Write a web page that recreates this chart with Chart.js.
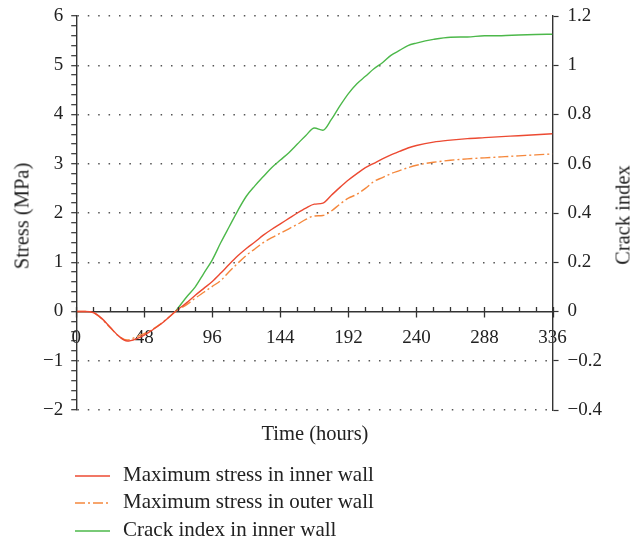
<!DOCTYPE html>
<html>
<head>
<meta charset="utf-8">
<script src="https://cdn.jsdelivr.net/npm/chart.js@4.4.0/dist/chart.umd.min.js"></script>
<style>
  body { margin: 0; background: #fff; }
  #wrap { position: relative; width: 638px; height: 542px; font-family: "Liberation Serif", "Times New Roman", serif; color: #222; }
  #chart { position: absolute; left: 0; top: 0; }
  .title { position: absolute; font-size: 20.5px; white-space: nowrap; }
  .rot { transform: translate(-50%, -50%) rotate(-90deg); }
  .legend { position: absolute; left: 75px; font-size: 21px; white-space: nowrap; transform: translateY(-50%); line-height: 24px; }
  .legend svg { vertical-align: middle; margin-right: 13px; }
</style>
</head>
<body>
<div id="wrap">
  <canvas id="chart" width="638" height="542"></canvas>
  <div class="title rot" style="left:22px; top:216px;">Stress (MPa)</div>
  <div class="title rot" style="left:623px; top:215px;">Crack index</div>
  <div class="title" style="left:315px; top:433px; transform: translate(-50%, -50%);">Time (hours)</div>
  <div id="legend"></div>
</div>
<script>
"use strict";

// time in hours
let times = [0, 6, 12, 18, 24, 30, 36, 42, 48, 54, 60, 66, 70, 78, 84, 90, 96, 102, 108, 114,
    120, 126, 132, 138, 144, 150, 156, 162, 168, 174, 180, 186, 192, 198, 204, 210, 216, 222,
    228, 234, 240, 252, 264, 276, 288, 300, 312, 324, 336];

// maximum stress in inner wall (MPa)
let innerStress = [0, 0, -0.02, -0.14, -0.32, -0.5, -0.6, -0.56, -0.48, -0.37, -0.25, -0.1, 0, 0.18, 0.33, 0.47, 0.61, 0.78, 0.96, 1.13,
    1.28, 1.41, 1.55, 1.67, 1.78, 1.89, 2.0, 2.1, 2.18, 2.2, 2.36, 2.52, 2.67, 2.8, 2.92, 3.01, 3.1, 3.18,
    3.25, 3.32, 3.37, 3.44, 3.48, 3.51, 3.53, 3.55, 3.57, 3.59, 3.61];

// maximum stress in outer wall (MPa)
let outerStress = [0, 0, -0.02, -0.15, -0.33, -0.5, -0.58, -0.52, -0.45, -0.36, -0.24, -0.1, 0, 0.14, 0.27, 0.39, 0.51, 0.63, 0.81, 0.98,
    1.14, 1.27, 1.4, 1.5, 1.59, 1.68, 1.77, 1.87, 1.94, 1.95, 2.04, 2.18, 2.3, 2.38, 2.5, 2.64, 2.72, 2.8,
    2.86, 2.92, 2.97, 3.03, 3.07, 3.1, 3.12, 3.14, 3.16, 3.18, 3.2];

// crack index in inner wall (only once the wall is in tension)
let crackIndex = [null, null, null, null, null, null, null, null, null, null, null, null, 0, 0.06, 0.1, 0.155, 0.21, 0.28, 0.345, 0.41,
    0.468, 0.51, 0.548, 0.585, 0.615, 0.645, 0.68, 0.715, 0.745, 0.736, 0.78, 0.835, 0.885, 0.925, 0.955, 0.986, 1.01, 1.04,
    1.06, 1.08, 1.09, 1.105, 1.114, 1.115, 1.12, 1.12, 1.123, 1.125, 1.126];

let stressTicks = [-2, -1, 0, 1, 2, 3, 4, 5, 6];
let crackTicks = [-0.4, -0.2, 0, 0.2, 0.4, 0.6, 0.8, 1, 1.2];
let timeTicks = [0, 48, 96, 144, 192, 240, 288, 336];

let seriesNames = ["Maximum stress in inner wall", "Maximum stress in outer wall", "Crack index in inner wall"];
let seriesColors = ["#ec4a32", "#f5883d", "#4cb84a"];

function toPoints(values) {
    return times.map((t, i) => ({ x: t, y: values[i] }));
}

function minus(v) {
    return String(v).replace("-", "\u2212");
}

function isWhole(v, step) {
    return Math.abs(v / step - Math.round(v / step)) < 1e-6;
}

// x axis tick marks: majors cross the axis, minors sit on top
const tickMarks = {
    id: "tickMarks",
    afterDraw(chart) {
        const ctx = chart.ctx;
        const xs = chart.scales.x;
        const y0 = chart.scales.y.getPixelForValue(0);
        ctx.save();
        ctx.strokeStyle = "#333";
        ctx.lineWidth = 1.3;
        for (let t = 0; t <= 336; t += 12) {
            const px = Math.round(xs.getPixelForValue(t)) + 0.5;
            const major = timeTicks.includes(t);
            ctx.beginPath();
            ctx.moveTo(px, y0 - 4.5);
            ctx.lineTo(px, y0 + (major ? 6 : 0));
            ctx.stroke();
        }
        ctx.restore();
    }
};

const tickFont = { family: "'Liberation Serif', 'Times New Roman', serif", size: 19 };
// small line height so the end labels don't push the plot area down
const sideFont = { family: "'Liberation Serif', 'Times New Roman', serif", size: 19, lineHeight: 0.6 };

new Chart(document.getElementById("chart"), {
    type: "line",
    data: {
        datasets: [{
            label: seriesNames[0],
            data: toPoints(innerStress),
            borderColor: seriesColors[0],
            borderWidth: 1.4,
            yAxisID: "y"
        }, {
            label: seriesNames[1],
            data: toPoints(outerStress),
            borderColor: seriesColors[1],
            borderWidth: 1.4,
            borderDash: [10, 3, 2, 3],
            yAxisID: "y"
        }, {
            label: seriesNames[2],
            data: toPoints(crackIndex),
            borderColor: seriesColors[2],
            borderWidth: 1.4,
            yAxisID: "y1"
        }]
    },
    options: {
        responsive: false,
        animation: false,
        events: [],
        elements: {
            point: { radius: 0 },
            line: { cubicInterpolationMode: "monotone" }
        },
        layout: { padding: { left: 35, right: 27, top: 16, bottom: 132 } },
        plugins: {
            legend: { display: false },
            tooltip: { enabled: false }
        },
        scales: {
            x: {
                type: "linear",
                min: 0,
                max: 336,
                position: { y: 0 },
                afterBuildTicks: axis => { axis.ticks = timeTicks.map(v => ({ value: v })); },
                ticks: { font: tickFont, color: "#222", padding: 15, maxRotation: 0, autoSkip: false },
                grid: { drawOnChartArea: false, drawTicks: false },
                border: { color: "#333", width: 1.4 }
            },
            y: {
                type: "linear",
                position: "left",
                min: -2,
                max: 6,
                ticks: {
                    stepSize: 0.2,
                    autoSkip: false,
                    font: sideFont,
                    color: "#222",
                    padding: 8,
                    callback: v => (isWhole(v, 1) && stressTicks.includes(Math.round(v))) ? minus(Math.round(v)) : ""
                },
                grid: {
                    color: c => (isWhole(c.tick.value, 1) && Math.round(c.tick.value) !== 0) ? "#555" : "rgba(0,0,0,0)",
                    lineWidth: 1.4,
                    tickColor: "#333",
                    tickLength: 5,
                    tickWidth: 1.2
                },
                border: { color: "#333", width: 1.4, dash: [1.5, 8.9] }
            },
            y1: {
                type: "linear",
                position: "right",
                min: -0.4,
                max: 1.2,
                afterBuildTicks: axis => { axis.ticks = crackTicks.map(v => ({ value: v })); },
                ticks: {
                    autoSkip: false,
                    font: sideFont,
                    color: "#222",
                    padding: 9,
                    callback: v => minus(Math.round(v * 10) / 10)
                },
                grid: { drawOnChartArea: false, tickColor: "#333", tickLength: 6, tickWidth: 1.2 },
                border: { color: "#333", width: 1.4 }
            }
        }
    },
    plugins: [tickMarks]
});

// legend under the chart
let legendEl = document.getElementById("legend");
let legendRows = [474, 501, 529];
seriesNames.forEach((name, i) => {
    let row = document.createElement("div");
    row.className = "legend";
    row.style.top = legendRows[i] + "px";
    let dash = i === 1 ? 'stroke-dasharray="10 3 2 3"' : "";
    row.innerHTML = '<svg width="35" height="4"><line x1="0" y1="2" x2="35" y2="2" stroke="' + seriesColors[i] +
        '" stroke-width="1.6" ' + dash + '/></svg>' + name;
    legendEl.appendChild(row);
});
</script>
</body>
</html>
